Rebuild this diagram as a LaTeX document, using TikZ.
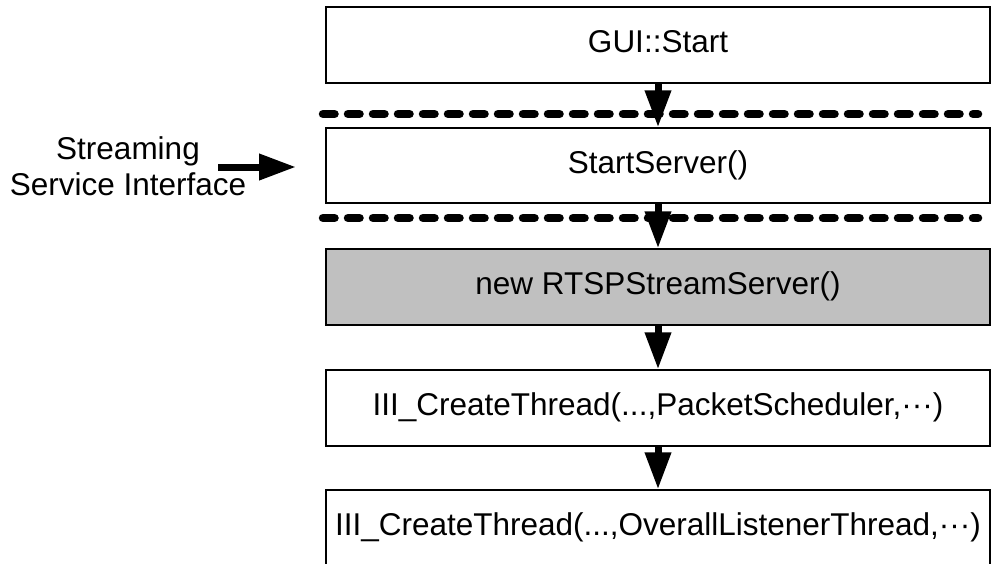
\documentclass[tikz,border=0pt]{standalone}
\usepackage{fontspec}
\setmainfont{Liberation Sans}
\usetikzlibrary{arrows.meta}
\begin{document}
\begin{tikzpicture}[x=1pt,y=-1pt,
  every node/.style={font=\fontsize{31.5}{36}\selectfont},
  stagebox/.style={draw=black,line width=1.5pt,minimum width=664pt,inner sep=0pt,
                   text height=23.6pt,text depth=7.9pt},
  flow/.style={line width=7pt,-{Triangle[length=37pt,width=25pt]}},
  divider/.style={line width=8.5pt,line cap=round,dash pattern=on 11.5pt off 13.5pt}]
  \useasboundingbox (0,0) rectangle (992,563);
  \clip (0,0) rectangle (992,563);

  % call chain
  \node[stagebox,minimum height=76pt] (b1) at (658,45) {GUI::Start};
  \node[stagebox,minimum height=75pt] (b2) at (658,165.5) {StartServer()};
  \node[stagebox,minimum height=76pt,fill={rgb,255:red,192;green,192;blue,192}] (b3) at (658,287) {new RTSPStreamServer()};
  \node[stagebox,minimum height=76pt] (b4) at (658,408) {III\_CreateThread(...,PacketScheduler,···)};
  \node[stagebox,minimum height=76pt] (b5) at (658,528) {III\_CreateThread(...,OverallListenerThread,···)};

  % layer boundaries
  \coordinate (d1a) at (323,114);
  \coordinate (d1b) at (978,114);
  \coordinate (d2a) at (323,218);
  \coordinate (d2b) at (978,218);
  \draw[divider] (d1a) -- (d1b);
  \draw[divider] (d2a) -- (d2b);

  % calls
  \draw[flow] (b1.south) -- (b2.north);
  \draw[flow] (b2.south) -- (b3.north);
  \draw[flow] (b3.south) -- (b4.north);
  \draw[flow] (b4.south) -- (b5.north);

  % external entry point
  \node[align=center,inner sep=0pt] (ssi) at (128,166) {Streaming\\Service Interface};
  \coordinate (ia) at (218,167);
  \coordinate (ib) at (296,167);
  \draw[flow] (ia) -- (ib);
\end{tikzpicture}
\end{document}
